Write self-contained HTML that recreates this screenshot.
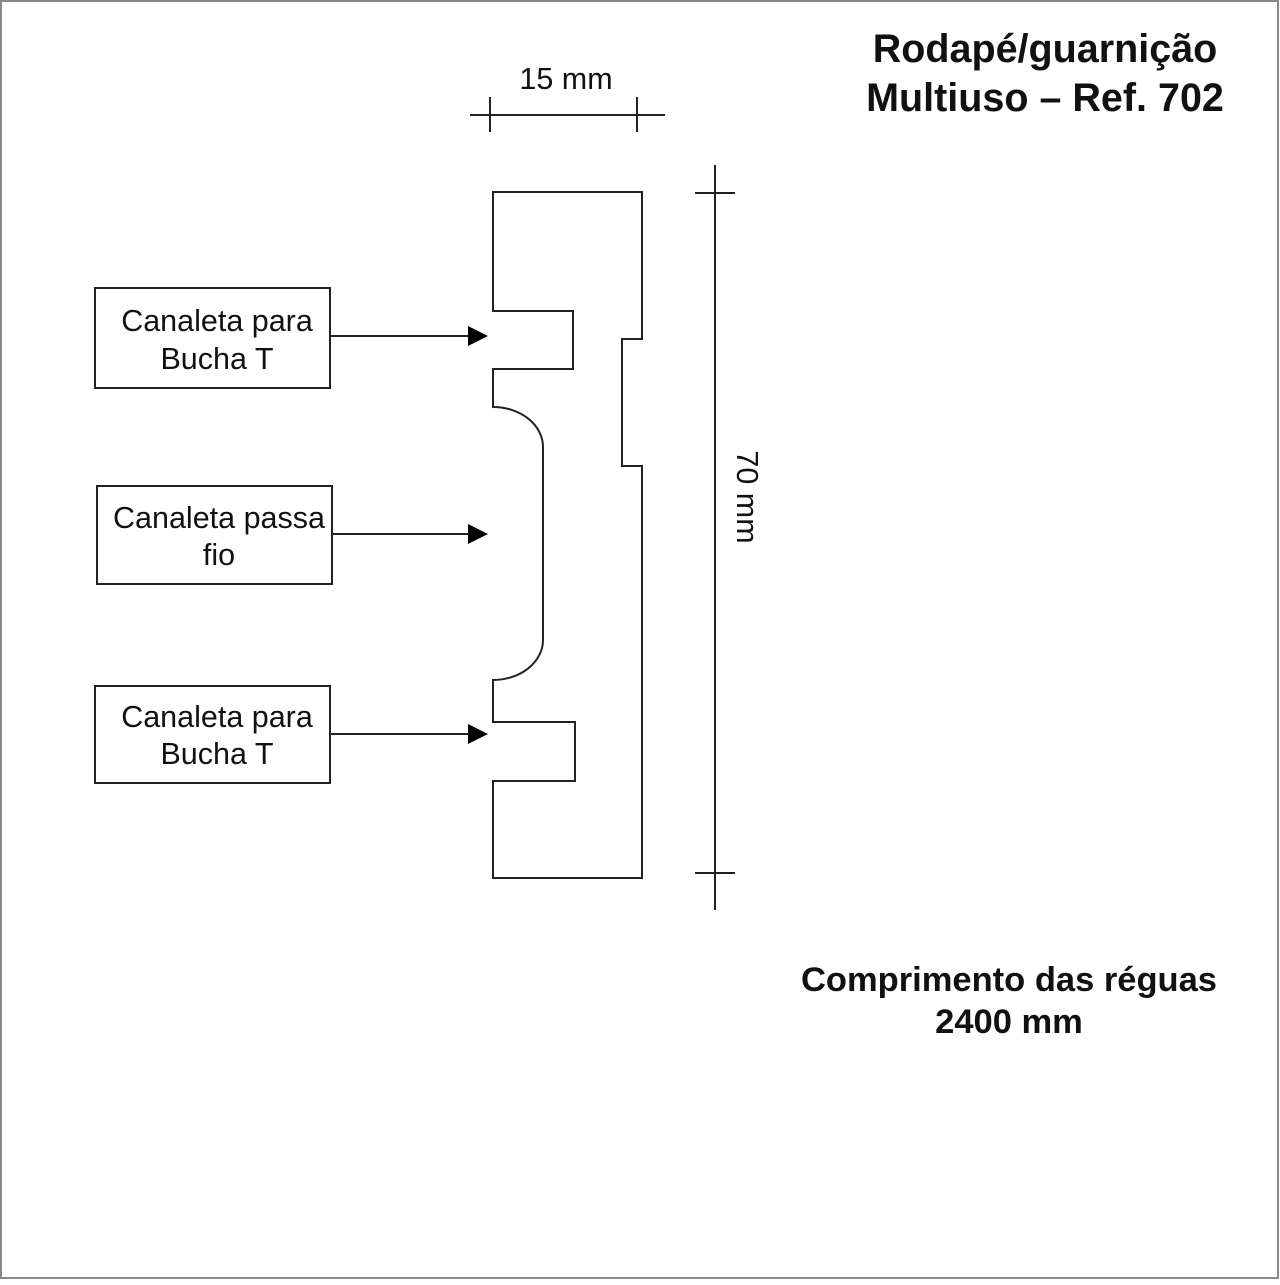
<!DOCTYPE html>
<html><head><meta charset="utf-8"><style>html,body{margin:0;padding:0;background:#fff}</style></head>
<body>
<svg width="1280" height="1280" viewBox="0 0 1280 1280" xmlns="http://www.w3.org/2000/svg" font-family="Liberation Sans, Arial, sans-serif">
<rect x="1" y="1" width="1277" height="1277" fill="#fff" stroke="#888" stroke-width="2"/>
<g fill="none" stroke="#222" stroke-width="2">
<path d="M493 192 H642 V339 H622 V466 H642 V878 H493 V781 H575 V722 H493 V680 A50 40 0 0 0 543 640 V447 A50 40 0 0 0 493 407 V369 H573 V311 H493 Z"/>
<line x1="715" y1="165" x2="715" y2="910"/>
<line x1="695" y1="193" x2="735" y2="193"/>
<line x1="695" y1="873" x2="735" y2="873"/>
<line x1="470" y1="115" x2="665" y2="115"/>
<line x1="490" y1="97" x2="490" y2="132"/>
<line x1="637" y1="97" x2="637" y2="132"/>
<rect x="95" y="288" width="235" height="100"/>
<rect x="97" y="486" width="235" height="98"/>
<rect x="95" y="686" width="235" height="97"/>
<line x1="330" y1="336" x2="470" y2="336"/>
<line x1="332" y1="534" x2="470" y2="534"/>
<line x1="330" y1="734" x2="470" y2="734"/>
</g>
<g fill="#000">
<polygon points="468,326 488,336 468,346"/>
<polygon points="468,524 488,534 468,544"/>
<polygon points="468,724 488,734 468,744"/>
</g>
<g font-size="30.5" fill="#111" text-anchor="middle">
<text x="217" y="331">Canaleta para</text>
<text x="217" y="369">Bucha T</text>
<text x="219" y="528">Canaleta passa</text>
<text x="219" y="565">fio</text>
<text x="217" y="727">Canaleta para</text>
<text x="217" y="764">Bucha T</text>
<text x="566" y="89">15 mm</text>
<text transform="translate(737 497) rotate(90)" x="0" y="0">70  mm</text>
</g>
<g font-size="39.5" font-weight="bold" fill="#111" text-anchor="middle">
<text x="1045" y="62">Rodapé/guarnição</text>
<text x="1045" y="111">Multiuso – Ref. 702</text>
</g>
<g font-size="34.5" font-weight="bold" fill="#111" text-anchor="middle">
<text x="1009" y="991">Comprimento das réguas</text>
<text x="1009" y="1033">2400 mm</text>
</g>
</svg>
</body></html>
